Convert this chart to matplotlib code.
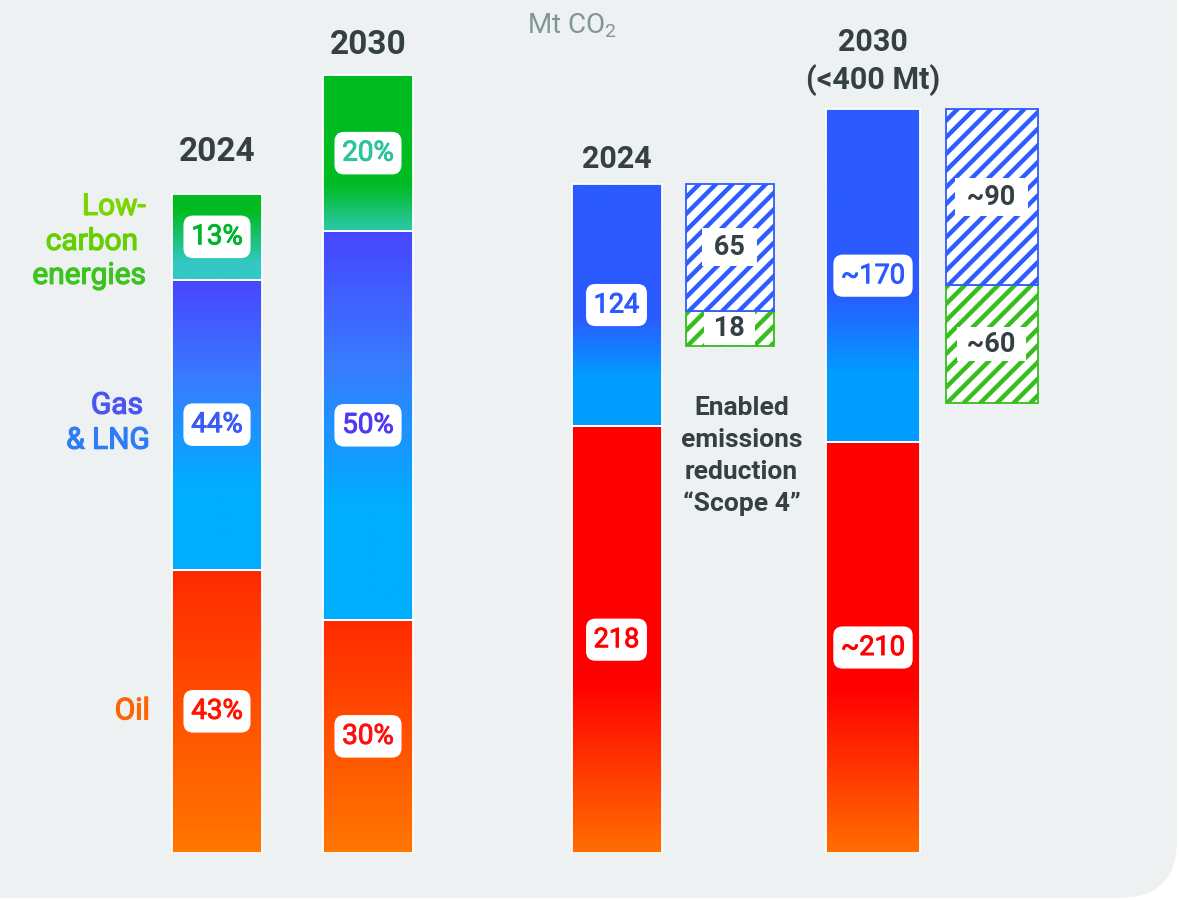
import numpy as np
import matplotlib.pyplot as plt
import matplotlib.patheffects as pe
from matplotlib.colors import LinearSegmentedColormap
from matplotlib.patches import FancyBboxPatch

plt.rcParams['font.family'] = ['Roboto', 'DejaVu Sans']
plt.rcParams['mathtext.fontset'] = 'custom'
plt.rcParams['mathtext.rm'] = 'Roboto'
plt.rcParams['hatch.linewidth'] = 3.2

# energy mix: shares in %, bar size relative to 2024
mix_years = ['2024', '2030']
mix_size = [100, 118]
oil_share = [43, 30]
gas_share = [44, 50]
lowc_share = [13, 20]

# emissions, Mt CO2
em_years = ['2024', '2030\n(<400 Mt)']
em_oil = [218, 210]
em_gas = [124, 170]
em_oil_lbl = ['218', '~210']
em_gas_lbl = ['124', '~170']
# enabled emissions reduction "Scope 4"
s4_gas = [65, 90]
s4_lowc = [18, 60]
s4_gas_lbl = ['65', '~90']
s4_lowc_lbl = ['18', '~60']

DARK = '#354045'
W, H = 1179, 900

fig = plt.figure(figsize=(W / 100, H / 100), dpi=100)
fig.patch.set_facecolor('white')

bg = fig.add_axes([0, 0, 1, 1])
bg.set_xlim(0, W)
bg.set_ylim(0, H)
bg.axis('off')
bg.add_patch(FancyBboxPatch((-100, 2), W - 2 + 100, H + 100,
                            boxstyle='round,pad=0,rounding_size=58',
                            fc='#eef1f2', ec='none'))
bg.text(527, 874, r'Mt CO$_\mathregular{2}$', fontsize=20, color='#7f9598',
        ha='left', va='center')

base = 47 / H
ax_mix = fig.add_axes([0, base, 1, 1 - base])
ax_em = fig.add_axes([0, base, 1, 1 - base])
for a in (ax_mix, ax_em):
    a.axis('off')


def medium(c, w=0.7):
    # a little stroke so the regular face reads like Roboto Medium
    return [pe.withStroke(linewidth=w, foreground=c)]


def gradient(ax, bar, stops):
    cmap = LinearSegmentedColormap.from_list('g', stops)
    x0, y0 = bar.get_x(), bar.get_y()
    w, h = bar.get_width(), bar.get_height()
    im = ax.imshow(np.linspace(0, 1, 256).reshape(-1, 1), cmap=cmap, aspect='auto',
                   extent=(x0, x0 + w, y0, y0 + h), origin='upper',
                   interpolation='bilinear', zorder=1)
    im.set_clip_path(bar)


def label(ax, bar, text, color, size, weight='normal', box='round,pad=0.28,rounding_size=0.35'):
    t = ax.text(bar.get_x() + bar.get_width() / 2, bar.get_y() + bar.get_height() / 2, text,
                ha='center', va='center', fontsize=size, color=color, fontweight=weight,
                zorder=5, bbox=dict(boxstyle=box, fc='white', ec='none'))
    if weight == 'normal':
        t.set_path_effects(medium(color))


def lines(ax, xy, text, dx, dy0, step, **kw):
    for k, line in enumerate(text.split('\n')):
        ax.annotate(line, xy, xytext=(dx, dy0 - k * step), textcoords='offset pixels',
                    color=DARK, **kw)


# ---- left: energy mix
mix_x = [217, 368]
size = np.array(mix_size, float)
oil_h = size * np.array(oil_share) / 100
gas_h = size * np.array(gas_share) / 100
lowc_h = size * np.array(lowc_share) / 100

kw = dict(width=90, color='none', edgecolor='white', lw=1.3, zorder=2)
b_oil = ax_mix.bar(mix_x, oil_h, **kw)
b_gas = ax_mix.bar(mix_x, gas_h, bottom=oil_h, **kw)
b_low = ax_mix.bar(mix_x, lowc_h, bottom=oil_h + gas_h, **kw)

oil_stops = [(0, '#ff2a00'), (1, '#ff7700')]
gas_stops = [(0, '#4846ff'), (0.35, '#377dff'), (0.7, '#00adff'), (1, '#00adff')]
low_stops = [[(0, '#00bb22'), (0.2, '#00bb22'), (0.8, '#33c8c4'), (1, '#33c8c8')],
             [(0, '#00bb22'), (0.7, '#00bb22'), (1, '#2cc8aa')]]
oil_lbl_c = ['#ff1500', '#ff1010']
gas_lbl_c = ['#3b5cf2', '#5038f5']
low_lbl_c = ['#00b42c', '#2cc49a']
year_off = [42, 30]
for i in range(2):
    gradient(ax_mix, b_oil[i], oil_stops)
    gradient(ax_mix, b_gas[i], gas_stops)
    gradient(ax_mix, b_low[i], low_stops[i])
    label(ax_mix, b_oil[i], f'{oil_share[i]}%', oil_lbl_c[i], 20)
    label(ax_mix, b_gas[i], f'{gas_share[i]}%', gas_lbl_c[i], 20)
    label(ax_mix, b_low[i], f'{lowc_share[i]}%', low_lbl_c[i], 20)
    ax_mix.annotate(mix_years[i], (mix_x[i], size[i]), xytext=(0, year_off[i]),
                    textcoords='offset pixels', ha='center', va='center',
                    fontsize=24, fontweight='bold', color=DARK)

# category names next to the 2024 bar
left = b_oil[0].get_x()
cat = dict(textcoords='offset pixels', ha='right', va='baseline', fontsize=21.5)
lc_y = b_low[0].get_y() + b_low[0].get_height() / 2
gas_y = b_gas[0].get_y() + b_gas[0].get_height() / 2
oil_y = b_oil[0].get_y() + b_oil[0].get_height() / 2
for t, y, dx, dy, c in [('Low-', lc_y, -26, 22, '#7cd400'),
                        ('carbon', lc_y, -34, -13, '#66cf00'),
                        ('energies', lc_y, -26, -47, '#3cc41e'),
                        ('Gas', gas_y, -29, 11, '#4a55f2'),
                        ('& LNG', gas_y, -22, -24, '#2f7cf5'),
                        ('Oil', oil_y, -22, -8, '#ff6400')]:
    ax_mix.annotate(t, (left, y), xytext=(dx, dy), color=c,
                    path_effects=medium(c, 0.9), **cat)

# ---- right: emissions
em_x = [616.5, 873]
s4_x = [729.5, 991.5]
oil = np.array(em_oil, float)
gas = np.array(em_gas, float)
total = oil + gas

e_oil = ax_em.bar(em_x, oil, width=[90, 94], color='none', edgecolor='white', lw=1.3, zorder=2)
e_gas = ax_em.bar(em_x, gas, bottom=oil, width=[90, 94], color='none', edgecolor='white',
                  lw=1.3, zorder=2)
red_stops = [(0, '#ff0000'), (0.6, '#ff0000'), (1, '#ff6e00')]
blue_stops = [(0, '#2b5aff'), (0.55, '#2b5aff'), (0.8, '#009dff'), (1, '#009dff')]
for i in range(2):
    gradient(ax_em, e_oil[i], red_stops)
    gradient(ax_em, e_gas[i], blue_stops)
    label(ax_em, e_oil[i], em_oil_lbl[i], '#ff0000', 19.5)
    label(ax_em, e_gas[i], em_gas_lbl[i], '#2b5aff', 19.5)

s4_bottom = total - np.array(s4_gas) - np.array(s4_lowc)
h_low = ax_em.bar(s4_x, s4_lowc, bottom=s4_bottom, width=[88, 92], color='white',
                  edgecolor='#35be1e', hatch='//', lw=1.3, zorder=2)
h_gas = ax_em.bar(s4_x, s4_gas, bottom=s4_bottom + np.array(s4_lowc), width=[88, 92],
                  color='white', edgecolor='#2e5cff', hatch='//', lw=1.3, zorder=2)
for i in range(2):
    label(ax_em, h_low[i], f' {s4_lowc_lbl[i]} ', DARK, 19.5, 'bold', 'square,pad=0.12')
    label(ax_em, h_gas[i], f' {s4_gas_lbl[i]} ', DARK, 19.5, 'bold', 'square,pad=0.2')

# year headers
lines(ax_em, (em_x[0], total[0]), em_years[0], 0, 25, 38, ha='center', va='center',
      fontsize=22, fontweight='bold')
lines(ax_em, (em_x[1], total[1]), em_years[1], 0, 67, 38, ha='center', va='center',
      fontsize=22, fontweight='bold')

lines(ax_em, (s4_x[0], s4_bottom[0]), 'Enabled\nemissions\nreduction\n\u201cScope 4\u201d',
      12, -62, 32, ha='center', va='center', fontsize=19, fontweight='bold')

ax_mix.set_xlim(0, W)
ax_mix.set_ylim(0, 100 * 853 / 659)
ax_em.set_xlim(0, W)
ax_em.set_ylim(0, 853 / 1.957)

fig.savefig('out.png', dpi=100)
